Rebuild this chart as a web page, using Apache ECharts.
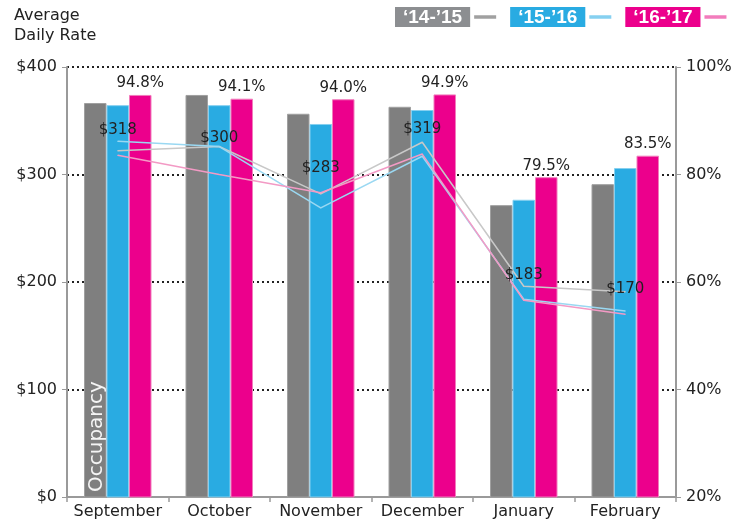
<!DOCTYPE html>
<html>
<head>
<meta charset="utf-8">
<script src="https://cdn.jsdelivr.net/npm/echarts@6/dist/echarts.min.js"></script>
<style>
  html, body { margin: 0; padding: 0; background: #fff; }
  #chart { width: 751px; height: 525px; }
</style>
</head>
<body>
<div id="chart"></div>
<script>
// 月份
var months = ['September', 'October', 'November', 'December', 'January', 'February'];
// 季节名称
var seasons = ['‘14-’15', '‘15-’16', '‘16-’17'];
// 入住率 (%) -- 柱
var occ1415 = [93.3, 94.8, 91.3, 92.6, 74.3, 78.2];
var occ1516 = [92.9, 92.9, 89.4, 92.0, 75.3, 81.2];
var occ1617 = [94.8, 94.1, 94.0, 94.9, 79.5, 83.5];
// 平均日房价 ($) -- 线
var adr1415 = [322, 326, 282, 330, 196, 191];
var adr1516 = [331, 326, 269, 317, 184, 173];
var adr1617 = [318, 300, 283, 319, 183, 170];
// 坐标轴刻度
var adrTicks = [0, 100, 200, 300, 400];
var occTicks = [20, 40, 60, 80, 100];

var barColors = ['#7f7f7f', '#29abe2', '#ec008c'];
var barBorders = ['#a0a0a0', '#86d0f0', '#f27cbc'];
var lineColors = ['#c8c8c8', '#9ad8f2', '#f39ac5'];
var boxColors = ['#8c8e91', '#29abe2', '#ec008c'];

var myChart = echarts.init(document.getElementById('chart'));

function barSeries(i, data, withLabel) {
	return {
		name: seasons[i],
		type: 'bar',
		yAxisIndex: 1,
		barWidth: 22.5,
		barGap: '0%',
		itemStyle: { color: barColors[i], borderColor: barBorders[i], borderWidth: 1 },
		label: {
			show: withLabel,
			position: 'top',
			distance: 4,
			color: '#222',
			fontSize: 15,
			formatter: function(p) { return p.value.toFixed(1) + '%'; }
		},
		data: data
	};
}

function lineSeries(i, data, withLabel) {
	return {
		name: seasons[i],
		type: 'line',
		yAxisIndex: 0,
		symbol: 'circle',
		symbolSize: 1,
		itemStyle: { color: lineColors[i] },
		lineStyle: { color: lineColors[i], width: 1.5 },
		label: {
			show: withLabel,
			position: 'top',
			distance: 17,
			color: '#222',
			fontSize: 15,
			formatter: function(p) { return '$' + p.value; }
		},
		data: data
	};
}

// 十月的标签往上挪一点，避开线
var pinkLine = adr1617.map(function(v, i) {
	return i === 1 ? { value: v, label: { distance: 28 } } : v;
});

var option = {
	animation: false,
	textStyle: { fontFamily: 'DejaVu Sans' },
	title: {
		text: 'Average\nDaily Rate',
		left: 9,
		top: 1,
		textStyle: { fontSize: 16, fontWeight: 'normal', color: '#222', lineHeight: 20 }
	},
	legend: {
		left: 390,
		top: 2,
		align: 'right',
		icon: 'rect',
		itemWidth: 20,
		itemHeight: 1.5,
		itemGap: 14,
		selectedMode: false,
		data: seasons.map(function(s, i) {
			return { name: s, itemStyle: { color: lineColors[i] } };
		}),
		formatter: function(name) {
			return '{s' + seasons.indexOf(name) + '|' + name + '}';
		},
		textStyle: {
			rich: {
				s0: { backgroundColor: boxColors[0], color: '#fff', fontFamily: 'Liberation Sans', fontWeight: 'bold', fontSize: 19, lineHeight: 22, padding: [1, 8, 0, 8] },
				s1: { backgroundColor: boxColors[1], color: '#fff', fontFamily: 'Liberation Sans', fontWeight: 'bold', fontSize: 19, lineHeight: 22, padding: [1, 8, 0, 8] },
				s2: { backgroundColor: boxColors[2], color: '#fff', fontFamily: 'Liberation Sans', fontWeight: 'bold', fontSize: 19, lineHeight: 22, padding: [1, 8, 0, 8] }
			}
		}
	},
	grid: { left: 67, right: 75, top: 67, bottom: 28 },
	xAxis: {
		type: 'category',
		data: months,
		axisLine: { lineStyle: { color: '#9a9a9a', width: 2 } },
		axisTick: { show: true, length: 5, interval: 0, lineStyle: { color: '#9a9a9a', width: 1.5 } },
		axisLabel: { color: '#222', fontSize: 16, margin: 7, interval: 0 }
	},
	yAxis: [{
		type: 'value',
		min: adrTicks[0],
		max: adrTicks[adrTicks.length - 1],
		interval: 100,
		axisLine: { show: true, lineStyle: { color: '#9a9a9a', width: 2 } },
		axisTick: { show: true, length: 5, lineStyle: { color: '#9a9a9a' } },
		axisLabel: { color: '#222', fontSize: 16, margin: 10, formatter: '${value}' },
		splitLine: { show: true, lineStyle: { color: '#222', type: [2, 3], width: 2 } }
	}, {
		type: 'value',
		position: 'right',
		min: occTicks[0],
		max: occTicks[occTicks.length - 1],
		interval: 20,
		axisLine: { show: true, lineStyle: { color: '#9a9a9a', width: 2 } },
		axisTick: { show: true, length: 5, lineStyle: { color: '#9a9a9a' } },
		axisLabel: { color: '#222', fontSize: 16, margin: 10, formatter: '{value}%' },
		splitLine: { show: false }
	}],
	graphic: [{
		type: 'text',
		x: 97,
		y: 492,
		rotation: Math.PI / 2,
		style: {
			text: 'Occupancy',
			fill: '#f4f4f4',
			font: '20px "DejaVu Sans"',
			textAlign: 'left',
			textVerticalAlign: 'middle'
		},
		z: 100
	}],
	series: [
		barSeries(0, occ1415, false),
		barSeries(1, occ1516, false),
		barSeries(2, occ1617, true),
		lineSeries(0, adr1415, false),
		lineSeries(1, adr1516, false),
		lineSeries(2, pinkLine, true)
	]
};

myChart.setOption(option);
</script>
</body>
</html>
